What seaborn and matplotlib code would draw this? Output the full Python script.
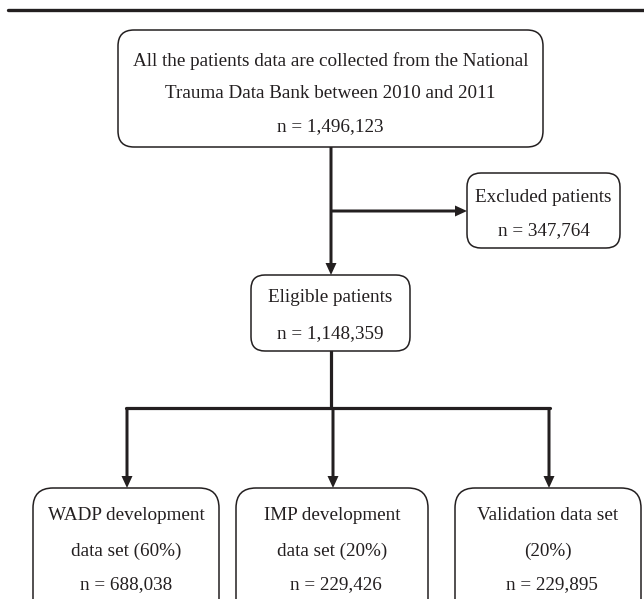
import matplotlib
matplotlib.use("Agg")
import matplotlib.pyplot as plt
from matplotlib.patches import FancyBboxPatch, FancyArrow
import seaborn as sns
import pandas as pd

# ---- content ----
box_names = ["source", "excluded", "eligible", "wadp", "imp", "validation"]
box_lines = [
    ["All the patients data are collected from the National",
     "Trauma Data Bank between 2010 and 2011"],
    ["Excluded patients"],
    ["Eligible patients"],
    ["WADP development", "data set (60%)"],
    ["IMP development", "data set (20%)"],
    ["Validation data set", "(20%)"],
]
box_counts = [1496123, 347764, 1148359, 688038, 229426, 229895]

# ---- layout (pixel coordinates, y downward) ----
boxes = {  # x0, y0, x1, y1, radius
    "source":     (118, 30, 543, 147, 16),
    "excluded":   (467, 173, 620, 248, 14),
    "eligible":   (251, 275, 410, 351, 14),
    "wadp":       (33, 488, 219, 620, 20),
    "imp":        (236, 488, 428, 620, 20),
    "validation": (455, 488, 641, 620, 20),
}
text_rows = {
    "source":     [61, 93, 127],
    "excluded":   [197, 231],
    "eligible":   [298, 334],
    "wadp":       [516, 551, 585],
    "imp":        [516, 551, 585],
    "validation": [516, 551, 585],
}
text_dx = {"source": 0, "excluded": 0, "eligible": 0, "wadp": 0, "imp": 4, "validation": 4}

INK = "#231f20"
W, H, DPI = 644, 599, 100
LW = 2.3

sns.set_theme(style="white")
plt.rcParams["font.family"] = ["Liberation Serif", "DejaVu Serif"]

fig = plt.figure(figsize=(W / DPI, H / DPI), dpi=DPI)
ax = fig.add_axes([0, 0, 1, 1])
ax.set_xlim(0, W)
ax.set_ylim(H, 0)
ax.axis("off")

# top rule
rule = pd.DataFrame({"x": [8, 644], "y": [10, 10]})
sns.lineplot(data=rule, x="x", y="y", ax=ax, color=INK, lw=2.4,
             sort=False, estimator=None)

# plain connector segments
segs = pd.DataFrame({
    "seg": ["a", "a", "b", "b"],
    "x": [331, 331, 126, 550],
    "y": [351, 408, 408, 408],
})
sns.lineplot(data=segs, x="x", y="y", units="seg", ax=ax, color=INK, lw=LW,
             sort=False, estimator=None)

# arrows: shaft as line, filled triangular head
arrows = [((331, 147), (331, 275)),
          ((331, 211), (467, 211)),
          ((127, 408), (127, 488)),
          ((333, 408), (333, 488)),
          ((549, 408), (549, 488))]
for (x0, y0), (x1, y1) in arrows:
    ax.add_patch(FancyArrow(x0, y0, x1 - x0, y1 - y0, width=3.0,
                            head_width=11, head_length=12,
                            length_includes_head=True, color=INK, lw=0,
                            zorder=2))

# boxes and text
for name, lines, n in zip(box_names, box_lines, box_counts):
    x0, y0, x1, y1, r = boxes[name]
    ax.add_patch(FancyBboxPatch((x0, y0), x1 - x0, y1 - y0,
                                boxstyle=f"round,pad=0,rounding_size={r}",
                                fc="white", ec=INK, lw=1.1, zorder=3))
    rows = lines + [f"n = {n:,}"]
    cx = (x0 + x1) / 2
    for i, (t, yy) in enumerate(zip(rows, text_rows[name])):
        dx = text_dx[name] if i == len(rows) - 1 else 0
        ax.text(cx + dx, yy, t, ha="center", va="center", fontsize=13.8,
                color=INK, zorder=4)

fig.savefig("out.png", dpi=DPI)
